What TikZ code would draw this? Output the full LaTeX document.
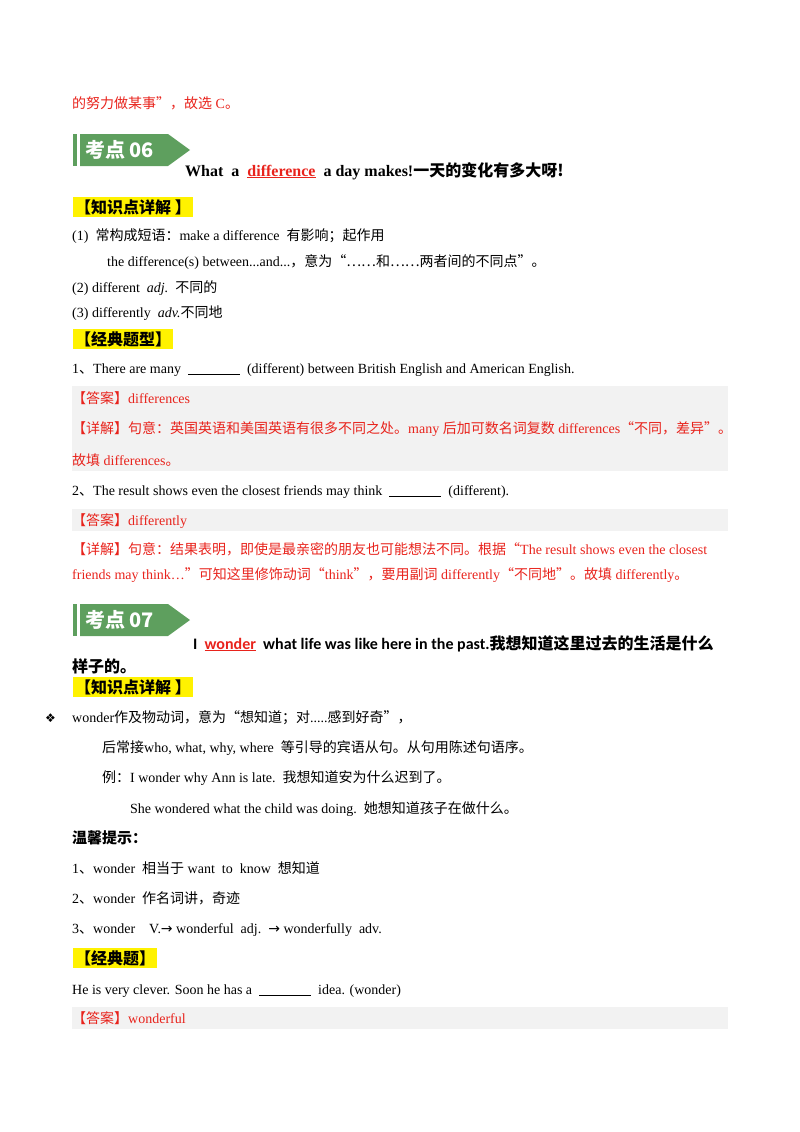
\documentclass[tikz,border=0pt]{standalone}
\usepackage{fontspec}
\setmainfont{Liberation Serif}
\newfontfamily\cjk{Noto Sans CJK SC}
\newfontfamily\sans{Carlito}
\newfontfamily\sym{DejaVu Sans}
\newcommand\z[1]{{\cjk #1}}
\definecolor{rd}{HTML}{E8231C}
\definecolor{gb}{HTML}{F2F2F2}
\definecolor{gn}{HTML}{5E9F5E}
\newcommand\blank{\underline{\hspace{52pt}}}
\tikzset{t/.style={anchor=base west,inner sep=0pt,font=\fontsize{14}{16}\selectfont},
 r/.style={t,text=rd},
 hl/.style={fill=yellow,anchor=west,inner sep=2pt,font=\fontsize{16}{18}\selectfont\cjk\bfseries},
 gbox/.style={fill=gb,draw=none}}
\newcommand\badge[3]{% x y label
 \fill[gn] (#1,#2) rectangle ++(4,32);
 \fill[gn] (#1+7,#2) -- ++(88,0) -- ++(22,16) -- ++(-22,16) -- ++(-88,0) -- cycle;
 \node[text=white,font=\fontsize{20}{22}\selectfont\cjk\bfseries,anchor=west,inner sep=0pt] at (#1+12,#2+16) {#3};}
\begin{document}
\begin{tikzpicture}[x=1pt,y=-1pt]
\useasboundingbox (0,0) rectangle (800,1132);
\node[r] (a0) at (72,108) {\z{的努力做某事”，故选} C\z{。}};
\badge{73}{134}{考点 06}
\node[t,font=\fontsize{16}{18}\selectfont\bfseries] (h6) at (185,176) {What\ \ a\ \ \textcolor{rd}{\underline{difference}}\ \ a day makes!\z{一天的变化有多大呀!}};
\node[hl] (k6) at (73,207) {【知识点详解 】};
\node[t] at (72,240) {(1)\ \ \z{常构成短语：}make a difference\ \ \z{有影响；起作用}};
\node[t] at (107,266) {the difference(s) between...and...\z{，意为“……和……两者间的不同点”。}};
\node[t] at (72,292) {(2) different\ \ \textit{adj.}\ \ \z{不同的}};
\node[t] at (72,317) {(3) differently\ \ \textit{adv.}\z{不同地}};
\node[hl] (j6) at (73,339) {【经典题型】};
\node[t] at (72,373) {1\z{、}There are many\ \ \blank\ \ (different) between British English and American English.};
\fill[gb] (72,386) rectangle (728,471);
\node[r] at (72,403) {\z{【答案】}differences};
\node[r] at (72,433) {\z{【详解】句意：英国英语和美国英语有很多不同之处。}many \z{后加可数名词复数} differences\z{“不同，差异”。}};
\node[r] at (72,465) {\z{故填} differences\z{。}};
\node[t] at (72,495) {2\z{、}The result shows even the closest friends may think\ \ \blank\ \ (different).};
\fill[gb] (72,509) rectangle (728,531);
\node[r] at (72,525) {\z{【答案】}differently};
\node[r] at (72,554) {\z{【详解】句意：结果表明，即使是最亲密的朋友也可能想法不同。根据“}The result shows even the closest};
\node[r] at (72,579) {friends may think…\z{”可知这里修饰动词“}think\z{”，要用副词} differently\z{“不同地”。故填} differently\z{。}};
\badge{73}{604}{考点 07}
\node[t,font=\fontsize{16}{18}\selectfont\sans\bfseries] (h7) at (193,649) {I\ \ \textcolor{rd}{\underline{wonder}}\ \ what life was like here in the past.\z{我想知道这里过去的生活是什么}};
\node[t,font=\fontsize{16}{18}\selectfont\cjk\bfseries] at (72,672) {样子的。};
\node[hl] (k7) at (73,687) {【知识点详解 】};
\node[t,font=\fontsize{12}{14}\selectfont\sym] at (45,722) {❖};
\node[t] at (72,722) {wonder\z{作及物动词，意为“想知道；对}.....\z{感到好奇”，}};
\node[t] at (102,752) {\z{后常接}who, what, why, where\ \ \z{等引导的宾语从句。从句用陈述句语序。}};
\node[t] at (102,782) {\z{例：}I wonder why Ann is late.\ \ \z{我想知道安为什么迟到了。}};
\node[t] at (130,813) {She wondered what the child was doing.\ \ \z{她想知道孩子在做什么。}};
\node[t,font=\fontsize{15}{17}\selectfont\cjk\bfseries] at (72,843) {温馨提示：};
\node[t] at (72,873) {1\z{、}wonder\ \ \z{相当于} want\ \ to\ \ know\ \ \z{想知道}};
\node[t] at (72,903) {2\z{、}wonder\ \ \z{作名词讲，奇迹}};
\node[t] at (72,933) {3\z{、}wonder\ \ \ \ V.{\sym→} wonderful\ \ adj.\ \ {\sym→} wonderfully\ \ adv.};
\node[hl] (j7) at (73,958) {【经典题】};
\node[t] at (72,994) {He is very clever. Soon he has a\ \ \blank\ \ idea. (wonder)};
\fill[gb] (72,1007) rectangle (728,1029);
\node[r] at (72,1023) {\z{【答案】}wonderful};
\end{tikzpicture}
\end{document}
